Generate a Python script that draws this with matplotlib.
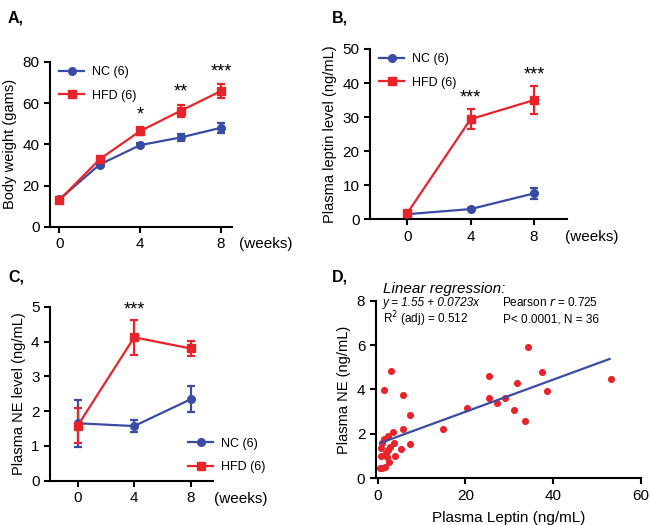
import matplotlib.pyplot as plt
from matplotlib.lines import Line2D
import numpy as np

plt.rcParams['font.family'] = ['Liberation Sans', 'DejaVu Sans']
plt.rcParams['font.size'] = 10

BLUE = '#3a4ba6'
RED = '#e8242a'

# Panel A - body weight
weeks_a = [0, 2, 4, 6, 8]
nc_weight = [13.3, 30.2, 39.6, 43.3, 48.0]
nc_weight_err = [0.6, 0.8, 0.9, 1.7, 2.4]
hfd_weight = [12.9, 32.8, 46.4, 56.2, 65.8]
hfd_weight_err = [0.6, 0.9, 1.8, 2.8, 3.2]
stars_a = {4: '*', 6: '**', 8: '***'}

# Panel B - plasma leptin
weeks_b = [0, 4, 8]
nc_leptin = [1.5, 3.0, 7.6]
nc_leptin_err = [0.3, 0.4, 1.6]
hfd_leptin = [1.8, 29.4, 35.0]
hfd_leptin_err = [0.4, 2.9, 4.0]
stars_b = {4: '***', 8: '***'}

# Panel C - plasma NE
weeks_c = [0, 4, 8]
nc_ne = [1.65, 1.57, 2.34]
nc_ne_err = [0.68, 0.18, 0.37]
hfd_ne = [1.58, 4.12, 3.80]
hfd_ne_err = [0.5, 0.5, 0.22]
stars_c = {4: '***'}

# Panel D - leptin vs NE scatter
leptin_x = [2.9, 1.5, 5.8, 7.4, 5.8, 3.5, 2.3, 7.4, 5.3, 3.6, 0.8, 2.3, 4.0, 2.0,
            2.5, 0.9, 1.7, 1.4, 1.0, 2.8, 1.8, 0.6, 0.5,
            14.9, 20.3, 25.3, 25.4, 27.2, 29.0, 31.0, 31.8, 33.6, 34.3, 37.4, 38.7, 53.2]
ne_y = [4.83, 3.98, 3.77, 2.84, 2.24, 2.1, 1.92, 1.53, 1.34, 1.58, 1.35, 1.27, 1.02, 0.97,
        0.75, 0.48, 0.5, 1.75, 1.58, 1.42, 1.12, 1.0, 0.45,
        2.23, 3.15, 4.62, 3.6, 3.38, 3.6, 3.08, 4.31, 2.58, 5.93, 4.8, 3.93, 4.47]
reg_intercept = 1.55
reg_slope = 0.0723

fig = plt.figure(figsize=(6.51, 5.25), dpi=100)

legend_handles = [
    Line2D([], [], color=BLUE, marker='o', ms=5.5, lw=1.6),
    Line2D([], [], color=RED, marker='s', ms=5.5, lw=1.6),
]
legend_labels = ['NC (6)', 'HFD (6)']


def style_axes(ax):
    ax.spines['top'].set_visible(False)
    ax.spines['right'].set_visible(False)
    for s in ['left', 'bottom']:
        ax.spines[s].set_linewidth(1.5)
    ax.tick_params(width=1.5, length=4, labelsize=11)


def time_course(ax, weeks, nc, nc_err, hfd, hfd_err):
    ax.errorbar(weeks, nc, yerr=nc_err, color=BLUE, marker='o', ms=5.5, lw=1.6,
                capsize=3, elinewidth=1.6, capthick=1.6, zorder=3)
    ax.errorbar(weeks, hfd, yerr=hfd_err, color=RED, marker='s', ms=5.5, lw=1.6,
                capsize=3, elinewidth=1.6, capthick=1.6, zorder=3)
    style_axes(ax)


def add_legend(ax, loc, anchor):
    ax.legend(legend_handles, legend_labels, loc=loc, frameon=False, fontsize=9,
              handlelength=2.0, handletextpad=0.6, bbox_to_anchor=anchor, labelspacing=0.9)


# A
axA = fig.add_axes([0.0768, 0.568, 0.279, 0.3143])
time_course(axA, weeks_a, nc_weight, nc_weight_err, hfd_weight, hfd_weight_err)
axA.set_xlim(-0.46, 8.53)
axA.set_ylim(0, 80)
axA.set_xticks([0, 4, 8])
axA.set_yticks([0, 20, 40, 60, 80])
axA.set_ylabel('Body weight (gams)', fontsize=10.5)
for wk, st in stars_a.items():
    i = weeks_a.index(wk)
    axA.text(wk, hfd_weight[i] + hfd_weight_err[i] + 2, st, ha='center', va='bottom', fontsize=13)
add_legend(axA, 'upper left', (-0.01, 1.04))
fig.text(239 / 651, 1 - 244 / 525, '(weeks)', ha='left', va='center', fontsize=11)
fig.text(8 / 651, 1 - 18 / 525, 'A,', fontsize=11.5, fontweight='bold', va='center')

# B
axB = fig.add_axes([0.5684, 0.5823, 0.302, 0.3244])
time_course(axB, weeks_b, nc_leptin, nc_leptin_err, hfd_leptin, hfd_leptin_err)
axB.set_xlim(-2.35, 10.06)
axB.set_ylim(0, 50)
axB.set_xticks([0, 4, 8])
axB.set_yticks([0, 10, 20, 30, 40, 50])
axB.set_ylabel('Plasma leptin level (ng/mL)', fontsize=10.5)
for wk, st in stars_b.items():
    i = weeks_b.index(wk)
    axB.text(wk, hfd_leptin[i] + hfd_leptin_err[i] + 0.8, st, ha='center', va='bottom', fontsize=13)
add_legend(axB, 'upper left', (-0.01, 1.04))
fig.text(565 / 651, 1 - 237 / 525, '(weeks)', ha='left', va='center', fontsize=11)
fig.text(332 / 651, 1 - 18 / 525, 'B,', fontsize=11.5, fontweight='bold', va='center')

# C
axC = fig.add_axes([0.0768, 0.0844, 0.2504, 0.3314])
time_course(axC, weeks_c, nc_ne, nc_ne_err, hfd_ne, hfd_ne_err)
axC.set_xlim(-1.96, 9.58)
axC.set_ylim(0, 5)
axC.set_xticks([0, 4, 8])
axC.set_yticks([0, 1, 2, 3, 4, 5])
axC.set_ylabel('Plasma NE level (ng/mL)', fontsize=10.5)
for wk, st in stars_c.items():
    i = weeks_c.index(wk)
    axC.text(wk, hfd_ne[i] + hfd_ne_err[i] + 0.05, st, ha='center', va='bottom', fontsize=13)
add_legend(axC, 'lower left', (0.78, -0.02))
fig.text(214 / 651, 1 - 499 / 525, '(weeks)', ha='left', va='center', fontsize=11)
fig.text(8 / 651, 1 - 277 / 525, 'C,', fontsize=11.5, fontweight='bold', va='center')

# D
axD = fig.add_axes([0.5771, 0.0890, 0.4071, 0.3383])
axD.scatter(leptin_x, ne_y, s=26, color=RED, zorder=2, linewidths=0)
xr = np.array([0.6, 52.9])
axD.plot(xr, reg_intercept + reg_slope * xr, color=BLUE, lw=1.6, zorder=3)
style_axes(axD)
axD.set_xlim(-0.5, 60)
axD.set_ylim(0, 8)
axD.set_xticks([0, 20, 40, 60])
axD.set_yticks([0, 2, 4, 6, 8])
axD.set_ylabel('Plasma NE (ng/mL)', fontsize=10.5)
axD.set_xlabel('Plasma Leptin (ng/mL)', fontsize=11, labelpad=6)
fig.text(383 / 651, 1 - 289 / 525, 'Linear regression:', style='italic', fontsize=11, va='center')
fig.text(383 / 651, 1 - 303 / 525, 'y = 1.55 + 0.0723x', style='italic', fontsize=8.5, va='center')
fig.text(502 / 651, 1 - 303 / 525, 'Pearson $\\mathit{r}$ = 0.725', fontsize=8.5, va='center')
fig.text(383 / 651, 1 - 319 / 525, 'R$^2$ (adj) = 0.512', fontsize=8.5, va='center')
fig.text(503 / 651, 1 - 319 / 525, 'P< 0.0001, N = 36', fontsize=8.5, va='center')
fig.text(332 / 651, 1 - 277 / 525, 'D,', fontsize=11.5, fontweight='bold', va='center')

fig.savefig('out.png', dpi=100)
